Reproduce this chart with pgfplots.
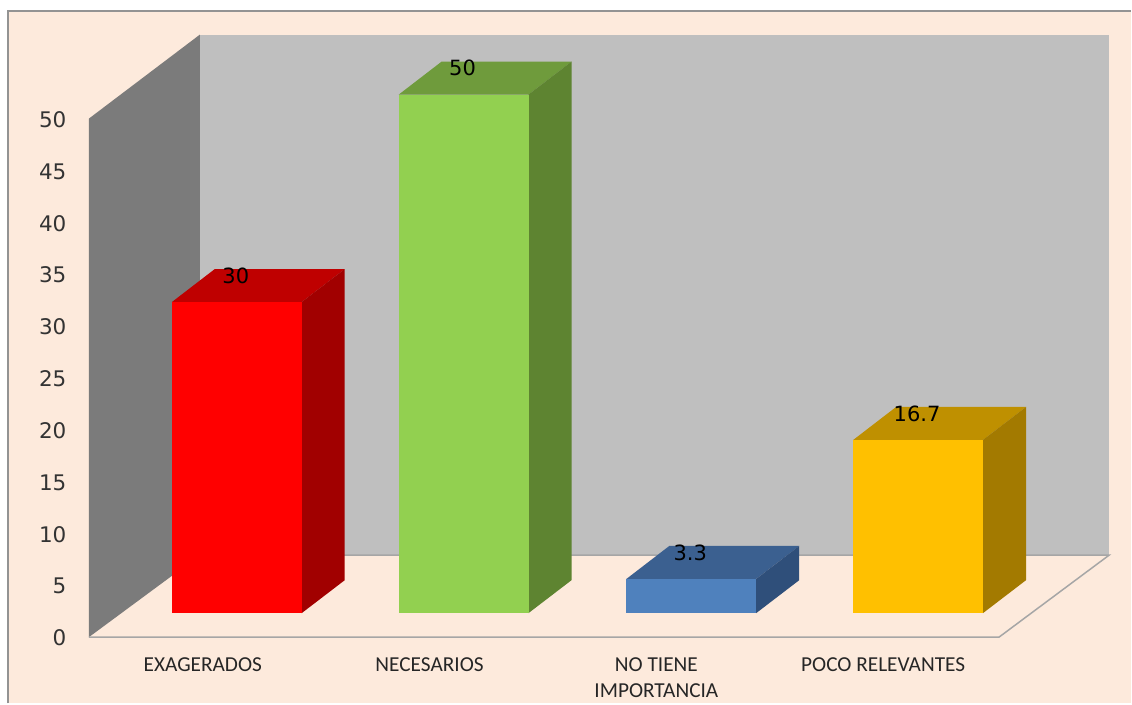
\documentclass[border=0pt]{standalone}
\usepackage{fontspec}
\setmainfont{DejaVu Sans}
\newfontfamily\catfont{Carlito}
\usepackage{pgfplots}
\pgfplotsset{compat=1.18}
\definecolor{peach}{HTML}{FDEADC}
\definecolor{backwall}{HTML}{BFBFBF}
\definecolor{sidewall}{HTML}{7B7B7B}
\definecolor{floorline}{HTML}{A6A6A6}

\pgfplotsset{
  barfront/.style={ybar, bar width=130pt, bar shift=0pt, fill=#1, draw=none,
    nodes near coords,
    nodes near coords style={anchor=center, yshift=26.5pt, xshift=-1pt, text=black,
      font=\fontsize{21}{24}\selectfont, /pgf/number format/assume math mode=true}},
  face/.style={fill=#1, draw=none, mark=none, forget plot},
}

\begin{document}
\begin{tikzpicture}
% page and frame, 1 px of the reference = 1 pt, origin at the axis corner
\fill[white] (-89pt,-67pt) rectangle ++(1132pt,704pt);
\fill[peach] (-80.5pt,-67pt) rectangle (1043pt,626pt);
\draw[gray!85, line width=2pt] (-80.5pt,-67pt) -- (-80.5pt,626pt) -- (1043pt,626pt);

\begin{axis}[
    at={(0pt,-0.7pt)}, anchor=south west,
    scale only axis,
    width=1021pt, height=603pt,
    xmin=-0.652, xmax=3.846,
    ymin=-2.312, ymax=55.78,
    clip=false,
    axis line style={draw=none},
    major tick length=0pt,
    ytick={-2.312,2.688,7.688,12.688,17.688,22.688,27.688,32.688,37.688,42.688,47.688},
    yticklabels={0,5,10,15,20,25,30,35,40,45,50},
    yticklabel style={font=\fontsize{21.5}{24}\selectfont, text=black!80, xshift=-19pt, yshift=-1pt},
    xtick={-0.15,0.85,1.85,2.85},
    xticklabels={EXAGERADOS,NECESARIOS,{NO TIENE\\IMPORTANCIA},POCO RELEVANTES},
    xticklabel style={font=\catfont\fontsize{21.3}{26}\selectfont, align=center, text=black!85, yshift=-17.5pt},
]

% walls and floor
\addplot[face=backwall] coordinates {(-0.163,5.588) (3.846,5.588) (3.846,55.78) (-0.163,55.78)};
\addplot[face=sidewall] coordinates {(-0.652,-2.312) (-0.163,5.588) (-0.163,55.78) (-0.652,47.688)};
\addplot[forget plot, mark=none, floorline, line width=1.5pt] coordinates {(-0.163,5.588) (3.846,5.588) (3.361,-2.312) (-0.652,-2.312)};

% EXAGERADOS
\addplot[face={red!75!black}] coordinates {(-0.286,30) (0.286,30) (0.476,33.18) (-0.097,33.18)};
\addplot[face={red!63!black}] coordinates {(0.286,0) (0.476,3.18) (0.476,33.18) (0.286,30)};
\addplot[barfront={red}] coordinates {(0,30)};

% NECESARIOS
\definecolor{gfront}{HTML}{92D050}
\definecolor{gtop}{HTML}{6F9B3C}
\definecolor{gside}{HTML}{5E8431}
\addplot[face=gtop] coordinates {(0.714,50) (1.286,50) (1.476,53.18) (0.903,53.18)};
\addplot[face=gside] coordinates {(1.286,0) (1.476,3.18) (1.476,53.18) (1.286,50)};
\addplot[barfront=gfront] coordinates {(1,50)};

% NO TIENE IMPORTANCIA
\definecolor{bfront}{HTML}{4F81BD}
\definecolor{btop}{HTML}{3B6090}
\definecolor{bside}{HTML}{2F4F7A}
\addplot[face=btop] coordinates {(1.718,3.3) (2.290,3.3) (2.480,6.48) (1.907,6.48)};
\addplot[face=bside] coordinates {(2.290,0) (2.480,3.18) (2.480,6.48) (2.290,3.3)};
\addplot[barfront=bfront] coordinates {(2.004,3.3)};

% POCO RELEVANTES
\definecolor{yfront}{HTML}{FFC000}
\definecolor{ytop}{HTML}{BF9000}
\definecolor{yside}{HTML}{A37A00}
\addplot[face=ytop] coordinates {(2.718,16.7) (3.290,16.7) (3.480,19.88) (2.907,19.88)};
\addplot[face=yside] coordinates {(3.290,0) (3.480,3.18) (3.480,19.88) (3.290,16.7)};
\addplot[barfront=yfront] coordinates {(3.004,16.7)};

\end{axis}
\end{tikzpicture}
\end{document}
